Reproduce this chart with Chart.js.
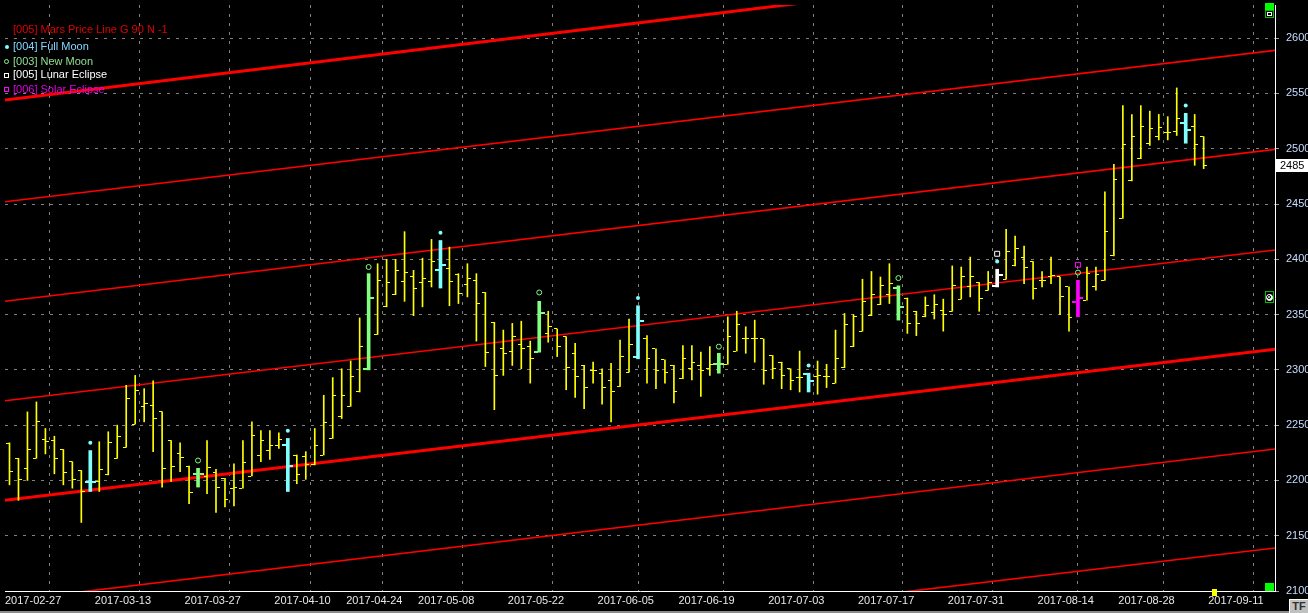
<!DOCTYPE html>
<html>
<head>
<meta charset="utf-8">
<title>Mars Price Line G 90</title>
<script src="https://cdn.jsdelivr.net/npm/chart.js@4.4.1/dist/chart.umd.min.js"></script>
<style>
  html, body { margin: 0; padding: 0; background: #000; overflow: hidden; }
  #wrap { position: relative; width: 1308px; height: 613px; background: #000; }
  #wrap canvas { position: absolute; left: 0; top: 0; }
  .lg { position: absolute; left: 13px; font: 11px "Liberation Sans", Arial, sans-serif; line-height: 13px; white-space: nowrap; }
  .mk { position: absolute; box-sizing: border-box; }
  .ic { position: absolute; box-sizing: border-box; }
</style>
</head>
<body>
<div id="wrap">
  <canvas id="chart" width="1308" height="613"></canvas>

  <div class="lg" style="top:23px;color:#e00000">[005] Mars Price Line G 90 N -1</div>
  <div class="mk" style="left:5px;top:45px;width:4px;height:4px;border-radius:50%;background:#80ffff"></div>
  <div class="lg" style="top:40px;color:#80d8ff">[004] Full Moon</div>
  <div class="mk" style="left:4px;top:59px;width:5px;height:5px;border-radius:50%;border:1px solid #80ff80"></div>
  <div class="lg" style="top:55px;color:#90e090">[003] New Moon</div>
  <div class="mk" style="left:4px;top:73px;width:5px;height:5px;border:1px solid #ffffff"></div>
  <div class="lg" style="top:68px;color:#ffffff">[005] Lunar Eclipse</div>
  <div class="mk" style="left:4px;top:87px;width:5px;height:5px;border:1px solid #ff00ff"></div>
  <div class="lg" style="top:83px;color:#e000e0">[006] Solar Eclipse</div>

  <div class="ic" style="left:1265px;top:3px;width:9px;height:7px;background:#00ff00"></div>
  <div class="ic" style="left:1265px;top:10px;width:9px;height:8px;border:1px solid #00c000;background:#000">
    <div class="ic" style="left:1px;top:1px;width:5px;height:4px;border:1px solid #fff;background:#000"></div>
  </div>
  <div class="ic" style="left:1265px;top:291px;width:9px;height:12px;border:1px solid #00c000;background:#000">
    <div class="ic" style="left:0px;top:1.5px;width:7px;height:7px;border-radius:50%;border:1.5px solid #fff;background:#fff">
      <div class="ic" style="left:0px;top:0px;width:4px;height:4px;border-radius:50%;border:1px solid #000"></div>
    </div>
  </div>
  <div class="ic" style="left:1265px;top:583px;width:9px;height:8px;background:#00ff00"></div>
  <div class="ic" style="left:1212px;top:589px;width:5px;height:7px;background:#ffff00"></div>
  <div class="ic" style="left:0px;top:611px;width:1289px;height:2px;background:#8c8c8c"></div>
  <div class="ic" style="left:1289px;top:599px;width:19px;height:14px;background:#c0c0c0;border-top:1px solid #fff;border-left:1px solid #fff;font:bold 11px 'Liberation Sans', Arial, sans-serif;color:#303030;line-height:13px;text-align:center">TF</div>
</div>

<script>
// ---- data ----
// date ticks (label, bar index where that date starts)
const dateLabels = ['2017-02-27', '2017-03-13', '2017-03-27', '2017-04-10', '2017-04-24',
  '2017-05-08', '2017-05-22', '2017-06-05', '2017-06-19', '2017-07-03', '2017-07-17',
  '2017-07-31', '2017-08-14', '2017-08-28', '2017-09-11'];
const dateBarIdx = [0, 10, 20, 30, 38, 46, 56, 66, 75, 85, 95, 105, 115, 124, 134];
const yTicks = [2100, 2150, 2200, 2250, 2300, 2350, 2400, 2450, 2500, 2550, 2600];

// daily OHLC, one value per bar
const opens = [
  2233, 2220, 2211, 2220, 2237, 2236, 2228, 2217, 2209, 2199,
  2199, 2205, 2220, 2230, 2251, 2267, 2268, 2262, 2236, 2224,
  2213, 2206, 2204, 2207, 2202, 2193, 2193, 2204, 2223, 2227,
  2232, 2232, 2223, 2222, 2214, 2223, 2238, 2258, 2267, 2280,
  2301, 2332, 2357, 2368, 2380, 2384, 2379, 2380, 2390, 2392,
  2386, 2377, 2381, 2370, 2343, 2319, 2317, 2323, 2321, 2316,
  2333, 2337, 2330, 2315, 2304, 2299, 2297, 2290, 2285, 2298,
  2312, 2328, 2319, 2309, 2304, 2292, 2301, 2304, 2301, 2305,
  2305, 2317, 2328, 2328, 2328, 2313, 2307, 2301, 2293, 2296,
  2294, 2294, 2288, 2302, 2321, 2335, 2349, 2359, 2368, 2374,
  2365, 2353, 2348, 2352, 2354, 2353, 2364, 2375, 2379, 2372,
  2376, 2382, 2394, 2402, 2398, 2381, 2384, 2384, 2375, 2361,
  2363, 2375, 2381, 2403, 2437, 2471, 2491, 2505, 2511, 2515,
  2516, 2523, 2520, 2511];
const highs = [
  2234, 2220, 2262, 2271, 2247, 2240, 2228, 2217, 2209, 2227,
  2235, 2244, 2250, 2286, 2295, 2283, 2290, 2262, 2236, 2234,
  2213, 2211, 2236, 2210, 2202, 2215, 2236, 2253, 2245, 2245,
  2243, 2238, 2223, 2226, 2247, 2277, 2293, 2301, 2308, 2347,
  2387, 2396, 2400, 2400, 2425, 2390, 2401, 2418, 2417, 2411,
  2387, 2396, 2387, 2370, 2343, 2336, 2342, 2344, 2326, 2362,
  2353, 2337, 2330, 2324, 2304, 2307, 2301, 2306, 2327, 2346,
  2358, 2331, 2319, 2309, 2304, 2322, 2322, 2316, 2321, 2315,
  2348, 2353, 2339, 2345, 2328, 2313, 2307, 2301, 2317, 2297,
  2308, 2305, 2336, 2351, 2350, 2382, 2389, 2384, 2396, 2376,
  2365, 2353, 2366, 2368, 2364, 2394, 2393, 2402, 2379, 2389,
  2391, 2427, 2421, 2412, 2398, 2389, 2402, 2384, 2375, 2381,
  2393, 2393, 2461, 2486, 2539, 2531, 2539, 2534, 2531, 2529,
  2555, 2532, 2531, 2511];
const lows = [
  2196, 2182, 2200, 2220, 2224, 2206, 2196, 2193, 2162, 2190,
  2190, 2205, 2220, 2230, 2251, 2253, 2226, 2194, 2199, 2208,
  2179, 2194, 2188, 2171, 2176, 2177, 2193, 2204, 2217, 2219,
  2229, 2190, 2197, 2201, 2214, 2223, 2238, 2256, 2267, 2280,
  2300, 2332, 2357, 2368, 2362, 2349, 2357, 2375, 2374, 2358,
  2360, 2366, 2326, 2303, 2264, 2295, 2304, 2301, 2288, 2316,
  2325, 2312, 2282, 2275, 2265, 2288, 2269, 2253, 2285, 2298,
  2310, 2288, 2283, 2288, 2270, 2292, 2291, 2276, 2295, 2297,
  2305, 2317, 2315, 2307, 2287, 2292, 2283, 2282, 2280, 2280,
  2278, 2284, 2288, 2302, 2321, 2335, 2349, 2359, 2360, 2345,
  2333, 2331, 2348, 2346, 2335, 2353, 2364, 2366, 2353, 2372,
  2375, 2382, 2394, 2378, 2364, 2375, 2378, 2350, 2335, 2348,
  2363, 2372, 2381, 2403, 2437, 2471, 2491, 2503, 2508, 2508,
  2512, 2505, 2485, 2482];
const closes = [
  2208, 2201, 2228, 2253, 2235, 2220, 2207, 2201, 2190, 2199,
  2210, 2234, 2240, 2274, 2281, 2270, 2256, 2211, 2213, 2221,
  2189, 2206, 2212, 2194, 2183, 2194, 2216, 2241, 2236, 2232,
  2237, 2213, 2205, 2214, 2232, 2252, 2277, 2277, 2294, 2321,
  2365, 2381, 2379, 2390, 2388, 2374, 2383, 2398, 2395, 2380,
  2369, 2383, 2360, 2316, 2295, 2315, 2330, 2319, 2310, 2351,
  2339, 2321, 2302, 2294, 2284, 2299, 2284, 2280, 2312, 2323,
  2344, 2310, 2299, 2298, 2280, 2310, 2307, 2299, 2305, 2305,
  2330, 2341, 2328, 2328, 2299, 2301, 2295, 2290, 2293, 2290,
  2295, 2294, 2310, 2341, 2348, 2362, 2368, 2376, 2378, 2357,
  2342, 2342, 2358, 2359, 2350, 2376, 2384, 2384, 2365, 2379,
  2386, 2407, 2410, 2393, 2374, 2381, 2385, 2366, 2347, 2365,
  2387, 2386, 2425, 2472, 2504, 2511, 2520, 2518, 2519, 2515,
  2527, 2517, 2504, 2485];

// moon / eclipse events: bar index and marker price
const fullMoonIdx = [9, 31, 48, 70, 89, 110, 131];
const fullMoonY = [2234, 2245, 2424, 2365, 2304, 2398, 2539];
const newMoonIdx = [21, 40, 59, 79, 99, 119];
const newMoonY = [2218, 2393, 2370, 2321, 2383, 2388];
const lunarIdx = [110];
const lunarY = [2405];
const solarIdx = [119];
const solarY = [2395];

// Mars price lines (G 90): value at the left and right edge of the plot
const marsX = [-0.5, 141];
const marsLines = [
  [2544, 2684],
  [2452, 2589],
  [2362, 2499.5],
  [2272, 2408.5],
  [2182, 2318.6],
  [2091, 2228.5],
  [2003, 2139]
];
const marsThick = [true, false, false, false, true, false, false];

// ---- colours ----
const YELLOW = '#ffff00', CYAN = '#80ffff', GREEN = '#80ff80', WHITE = '#ffffff', MAGENTA = '#ff00ff';
const FONT = '"Liberation Sans", Arial, sans-serif';

function barColor(i) {
  if (solarIdx.includes(i)) return MAGENTA;
  if (lunarIdx.includes(i)) return WHITE;
  if (fullMoonIdx.includes(i)) return CYAN;
  if (newMoonIdx.includes(i)) return GREEN;
  return YELLOW;
}

const plainBars = [], eventBars = [], eventColors = [];
highs.forEach((h, i) => {
  const c = barColor(i);
  if (c === YELLOW) plainBars.push({ x: i, y: [lows[i], h] });
  else { eventBars.push({ x: i, y: [lows[i], h] }); eventColors.push(c); }
});

const pts = (idx, ys) => idx.map((x, k) => ({ x: x, y: ys[k] }));

const lineSets = marsLines.map((vals, k) => ({
  type: 'line',
  data: marsX.map((x, j) => ({ x: x, y: vals[j] })),
  borderColor: '#ff0000',
  borderWidth: marsThick[k] ? 3 : 1.6,
  pointRadius: 0,
  order: 5
}));

// open / close ticks of the OHLC bars
const ohlcTicks = {
  id: 'ohlcTicks',
  afterDatasetsDraw(chart) {
    const xs = chart.scales.x, ys = chart.scales.y, ctx = chart.ctx;
    ctx.save();
    opens.forEach((o, i) => {
      const col = barColor(i);
      const ev = col !== YELLOW;
      const cx = xs.getPixelForValue(i);
      const half = ev ? 1.5 : 0.5;
      const len = ev ? 4 : 3;
      const t = ev ? 2 : 1;
      const yo = Math.round(ys.getPixelForValue(o) - t / 2);
      const yc = Math.round(ys.getPixelForValue(closes[i]) - t / 2);
      ctx.fillStyle = col;
      ctx.fillRect(Math.round(cx - half - len), yo, len, t);
      ctx.fillRect(Math.round(cx + half), yc, len, t);
    });
    ctx.restore();
  }
};

// last price box on the right axis
const lastPrice = {
  id: 'lastPrice',
  afterDraw(chart) {
    const ys = chart.scales.y, ctx = chart.ctx;
    const v = closes[closes.length - 1];
    const y = Math.round(ys.getPixelForValue(v));
    ctx.save();
    ctx.fillStyle = '#ffffff';
    ctx.fillRect(ys.left + 1, y - 6, ys.width, 13);
    ctx.fillStyle = '#000000';
    ctx.font = '11px ' + FONT;
    ctx.textBaseline = 'middle';
    ctx.fillText(String(Math.round(v)), ys.left + 5, y + 1);
    ctx.restore();
  }
};

new Chart(document.getElementById('chart'), {
  type: 'bar',
  data: {
    datasets: [
      ...lineSets,
      {
        data: plainBars,
        backgroundColor: YELLOW,
        barThickness: 1,
        grouped: false,
        borderWidth: 0,
        order: 3
      },
      {
        data: eventBars,
        backgroundColor: eventColors,
        barThickness: 3,
        grouped: false,
        borderWidth: 0,
        order: 2
      },
      {
        type: 'line', showLine: false, data: pts(fullMoonIdx, fullMoonY),
        pointStyle: 'circle', pointRadius: 2, pointBackgroundColor: CYAN, pointBorderColor: CYAN,
        pointBorderWidth: 0, order: 1
      },
      {
        type: 'line', showLine: false, data: pts(newMoonIdx, newMoonY),
        pointStyle: 'circle', pointRadius: 2.5, pointBackgroundColor: 'rgba(0,0,0,0)', pointBorderColor: GREEN,
        pointBorderWidth: 1, order: 1
      },
      {
        type: 'line', showLine: false, data: pts(lunarIdx, lunarY),
        pointStyle: 'rect', pointRadius: 3.5, pointBackgroundColor: 'rgba(0,0,0,0)', pointBorderColor: WHITE,
        pointBorderWidth: 1, order: 1
      },
      {
        type: 'line', showLine: false, data: pts(solarIdx, solarY),
        pointStyle: 'rect', pointRadius: 3.5, pointBackgroundColor: 'rgba(0,0,0,0)', pointBorderColor: MAGENTA,
        pointBorderWidth: 1, order: 1
      }
    ]
  },
  options: {
    responsive: false,
    animation: false,
    events: [],
    layout: { padding: { left: 2, top: 0, right: 0, bottom: 0 } },
    plugins: { legend: { display: false }, tooltip: { enabled: false } },
    scales: {
      x: {
        type: 'linear',
        offset: false,
        min: -0.5,
        max: -0.5 + 1273 / 9,
        afterBuildTicks: s => { s.ticks = dateBarIdx.map(v => ({ value: v - 0.5 })); },
        afterFit: s => { s.height = 22; s.paddingLeft = 0; s.paddingRight = 0; },
        grid: {
          color: c => (c.index === 0 ? '#ffffff' : '#808080'),
          lineWidth: 1,
          drawTicks: false
        },
        border: { color: '#ffffff', width: 1, dash: [3, 6] },
        ticks: {
          autoSkip: false,
          maxRotation: 0,
          align: 'start',
          padding: 0,
          color: '#e8e8e8',
          font: { family: FONT, size: 11, lineHeight: 1.8 },
          callback: (v, i) => dateLabels[i]
        }
      },
      y: {
        position: 'right',
        min: 2100,
        max: 2630,
        afterBuildTicks: s => { s.ticks = yTicks.map(v => ({ value: v })); },
        afterFit: s => { s.width = 33; s.paddingTop = 0; s.paddingBottom = 0; },
        grid: {
          color: '#808080',
          lineWidth: 1,
          drawTicks: true,
          tickLength: 4,
          tickColor: '#a0a0a0'
        },
        border: { color: '#ffffff', width: 1, dash: [3, 6] },
        ticks: {
          padding: 7,
          color: '#c8dcff',
          font: { family: FONT, size: 11 },
          callback: v => String(v)
        }
      }
    }
  },
  plugins: [ohlcTicks, lastPrice]
});
</script>
</body>
</html>
